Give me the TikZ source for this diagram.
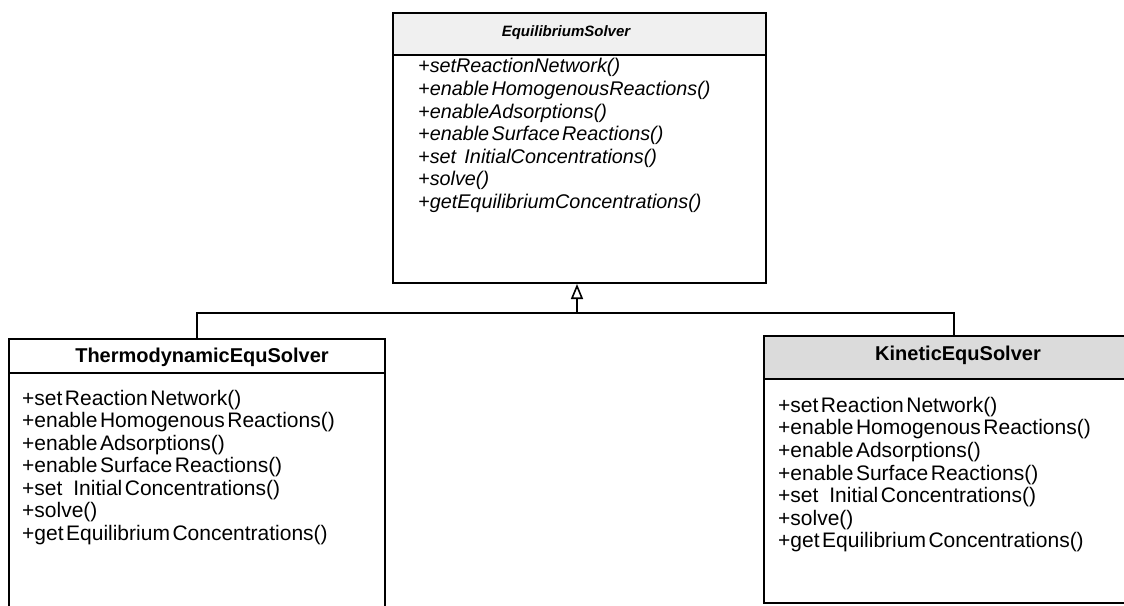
\documentclass[tikz,border=0pt]{standalone}
\usepackage{fontspec}
\setmainfont{Liberation Sans}
\usetikzlibrary{arrows.meta}

\newcommand\opfont{\fontsize{21}{23}\selectfont\spaceskip=0.12em\relax}
\newcommand\iopfont{\itshape\fontsize{19.8}{22}\selectfont\spaceskip=0.12em\relax}

\tikzset{
  classbox/.style={draw, line width=2pt, inner sep=0pt, anchor=north west},
  rule/.style={line width=1.8pt},
  link/.style={line width=2pt},
  haze/.style={fill=black!6},
  title/.style={inner sep=0pt, font=\bfseries\fontsize{20}{22}\selectfont},
  ititle/.style={inner sep=0pt, font=\bfseries\itshape\fontsize{15}{17}\selectfont},
  op/.style={anchor=west, inner sep=0pt, font=\opfont},
  iop/.style={anchor=west, inner sep=0pt, font=\iopfont},
}

\begin{document}
\begin{tikzpicture}[x=1pt, y=-1pt]
\useasboundingbox (0,0) rectangle (1124,605);
\clip (0,0) rectangle (1124,605);

% header shading
\fill[haze] (392,12) rectangle (765,55);
\fill[black!14] (763,335) rectangle (1130,379);

% class boxes
\node[classbox, minimum width=373pt, minimum height=270pt] (base) at (392,12) {};
\node[classbox, minimum width=376pt, minimum height=290pt] (thermo) at (8,338) {};
\node[classbox, minimum width=380pt, minimum height=267pt] (kinetic) at (763,335) {};

% name compartments
\draw[rule] ([yshift=-43pt]base.north west) -- ([yshift=-43pt]base.north east);
\draw[rule] ([yshift=-35pt]thermo.north west) -- ([yshift=-35pt]thermo.north east);
\draw[rule] ([yshift=-44pt]kinetic.north west) -- ([yshift=-44pt]kinetic.north east);

\node[ititle] (baseName) at (566,33) {EquilibriumSolver};
\node[title] (thermoName) at (202,357) {ThermodynamicEquSolver};
\node[title] (kineticName) at (958,355) {KineticEquSolver};

% abstract operations
\node[iop] (b1) at (418,67)  {+setReactionNetwork()};
\node[iop] (b2) at (418,90)  {+enable HomogenousReactions()};
\node[iop] (b3) at (418,113) {+enableAdsorptions()};
\node[iop] (b4) at (418,135) {+enable Surface Reactions()};
\node[iop] (b5) at (418,158) {+set\hspace{0.3em} InitialConcentrations()};
\node[iop] (b6) at (418,180) {+solve()};
\node[iop] (b7) at (418,203) {+getEquilibriumConcentrations()};

% thermodynamic operations
\node[op] (t1) at (22,400) {+set Reaction Network()};
\node[op] (t2) at (22,422) {+enable Homogenous Reactions()};
\node[op] (t3) at (22,445) {+enable Adsorptions()};
\node[op] (t4) at (22,467) {+enable Surface Reactions()};
\node[op] (t5) at (22,490) {+set\hspace{0.4em} Initial Concentrations()};
\node[op] (t6) at (22,512) {+solve()};
\node[op] (t7) at (22,535) {+get Equilibrium Concentrations()};

% kinetic operations
\node[op] (k1) at (778,407) {+set Reaction Network()};
\node[op] (k2) at (778,429) {+enable Homogenous Reactions()};
\node[op] (k3) at (778,452) {+enable Adsorptions()};
\node[op] (k4) at (778,475) {+enable Surface Reactions()};
\node[op] (k5) at (778,497) {+set\hspace{0.4em} Initial Concentrations()};
\node[op] (k6) at (778,520) {+solve()};
\node[op] (k7) at (778,542) {+get Equilibrium Concentrations()};

% generalization
\coordinate (j) at (577,313);
\draw[link] (thermo.north) -- (thermo.north |- j) -- (kinetic.north |- j) -- (kinetic.north);
\draw[link, -{Triangle[open, length=15pt, width=12pt, line width=1.6pt]}] (j) -- (j |- base.south);
\end{tikzpicture}
\end{document}
